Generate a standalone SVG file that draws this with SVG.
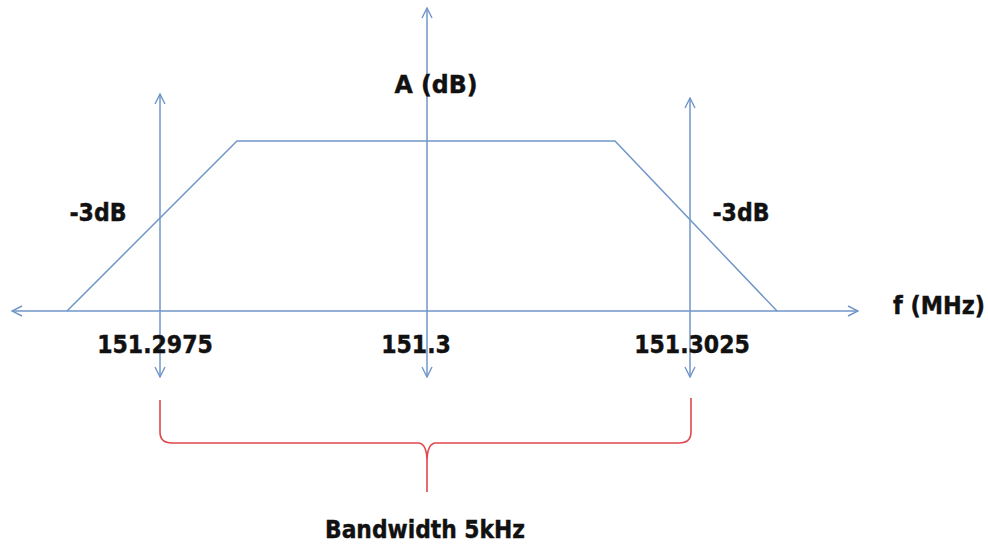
<svg xmlns="http://www.w3.org/2000/svg" width="988" height="547" viewBox="0 0 988 547">
<defs>
<marker id="ah" viewBox="0 0 12 12" refX="11" refY="6" markerWidth="12" markerHeight="12" markerUnits="userSpaceOnUse" orient="auto-start-reverse">
<path d="M1,1 L11,6 L1,11" fill="none" stroke="#7096c8" stroke-width="1.4"/>
</marker>
</defs>
<style>
.ax{stroke:#7096c8;stroke-width:1.5;fill:none}
.br{stroke:#e0474c;stroke-width:1.6;fill:none}
text{font-family:"DejaVu Sans Condensed","DejaVu Sans",sans-serif;font-weight:bold;font-size:24.5px;fill:#111;stroke:#111;stroke-width:0.4}
</style>
<rect width="988" height="547" fill="#fff"/>
<g id="connectors">
<line class="ax" x1="12" y1="311" x2="858" y2="311" marker-start="url(#ah)" marker-end="url(#ah)"/>
<line class="ax" x1="427" y1="8" x2="427" y2="377" marker-start="url(#ah)" marker-end="url(#ah)"/>
<line class="ax" x1="160" y1="94" x2="160" y2="377" marker-start="url(#ah)" marker-end="url(#ah)"/>
<line class="ax" x1="690" y1="98" x2="690" y2="377" marker-start="url(#ah)" marker-end="url(#ah)"/>
</g>
<g id="curve">
<polyline class="ax" points="67,311 237,141 615,141 777,311"/>
</g>
<g id="brace">
<path class="br" d="M160,400 L160,432 Q160,443 172,443 L418,443 Q427,443 427,462 L427,492 M427,462 Q427,443 436,443 L679,443 Q691,443 691,432 L691,398"/>
</g>
<g id="labels">
<text x="436" y="93" text-anchor="middle" textLength="83" lengthAdjust="spacingAndGlyphs">A (dB)</text>
<text x="939" y="314" text-anchor="middle" textLength="92" lengthAdjust="spacingAndGlyphs">f (MHz)</text>
<text x="98" y="221" text-anchor="middle">-3dB</text>
<text x="741" y="221" text-anchor="middle">-3dB</text>
<text x="155" y="353" text-anchor="middle">151.2975</text>
<text x="416" y="353" text-anchor="middle">151.3</text>
<text x="692" y="353" text-anchor="middle">151.3025</text>
<text x="425" y="538" text-anchor="middle" textLength="200" lengthAdjust="spacingAndGlyphs">Bandwidth 5kHz</text>
</g>
</svg>
